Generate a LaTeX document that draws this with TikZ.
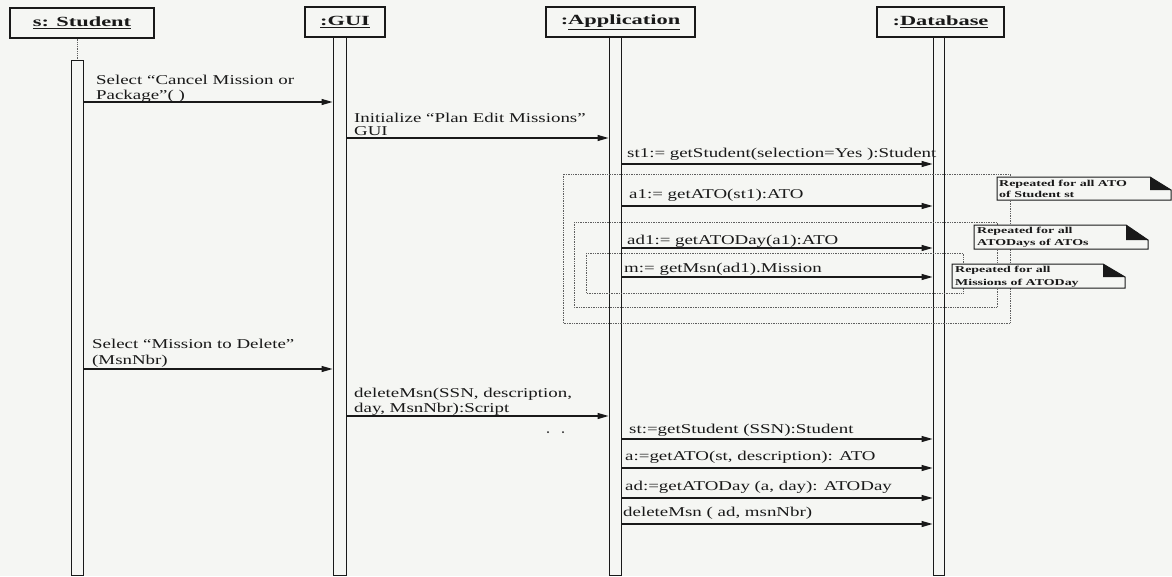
\documentclass[tikz,border=0pt]{standalone}
\usepackage{fontspec}
\setmainfont{Liberation Serif}
\newfontfamily\lblfont[FakeStretch=1.4]{Liberation Serif}
\newfontfamily\hdrfont[FakeStretch=1.6]{Liberation Serif}
\newfontfamily\notefont[FakeStretch=1.55]{Liberation Serif}
\usetikzlibrary{arrows.meta}
\definecolor{bgcol}{RGB}{245,246,243}
\definecolor{ink}{RGB}{25,25,25}
\definecolor{dotcol}{RGB}{95,95,95}
\begin{document}
\begin{tikzpicture}[x=1pt,y=-1pt,
  hdrbox/.style={draw=ink, line width=1.1pt, inner sep=0pt, text=ink,
    font=\hdrfont\bfseries\fontsize{14}{16}\selectfont},
  lifebar/.style={draw=ink, line width=0.9pt, inner sep=0pt, anchor=north},
  lifedots/.style={dotcol, densely dotted, line width=0.8pt},
  msg/.style={draw=ink, line width=1.2pt, -{Triangle[length=11pt,width=6pt]}},
  lbl/.style={anchor=base west, inner sep=0pt, text=ink,
    font=\lblfont\fontsize{13.5}{15}\selectfont},
  loopframe/.style={dotcol, densely dotted, line width=0.7pt},
  notebd/.style={draw=ink, line width=1pt, fill=bgcol},
  notetxt/.style={anchor=base west, inner sep=0pt, text=ink,
    font=\notefont\bfseries\fontsize{9}{10}\selectfont}
]
\fill[bgcol] (0,0) rectangle (1172,576);
\useasboundingbox (0,0) rectangle (1172,576);

% headers
\node[hdrbox, minimum width=144pt, minimum height=30pt] (stu) at (82,23) {\underline{s: Student}};
\node[hdrbox, minimum width=80pt, minimum height=30pt] (gui) at (345,22) {\underline{:GUI}};
\node[hdrbox, minimum width=149pt, minimum height=30pt] (app) at (620.5,22) {:\underline{Application}};
\node[hdrbox, minimum width=127pt, minimum height=30pt] (dbs) at (940.5,22) {:\underline{Database}};

% activation bars
\node[lifebar, minimum width=12pt, minimum height=515pt] (sb) at (77,60) {};
\node[lifebar, minimum width=13pt, minimum height=538pt] (gb) at (339.5,37) {};
\node[lifebar, minimum width=12pt, minimum height=538pt] (ab) at (615,37) {};
\node[lifebar, minimum width=11pt, minimum height=538pt] (db) at (938.5,37) {};
\draw[lifedots] (sb.north |- stu.south) -- (sb.north);

% loop frames
\draw[loopframe] (563,174) rectangle (1010,323);
\draw[loopframe] (574,222) rectangle (997,307);
\draw[loopframe] (586,253) rectangle (963,293);

% messages
\node[lbl] (l1a) at (96,84) {Select “Cancel Mission or};
\node[lbl] (l1b) at (96,99) {Package”( )};
\draw[msg] (sb.east |- 0,102) -- (gb.west |- 0,102);

\node[lbl] (l2a) at (354,122) {Initialize “Plan Edit Missions”};
\node[lbl] (l2b) at (354,135) {GUI};
\draw[msg] (gb.east |- 0,138) -- (ab.west |- 0,138);

\node[lbl] (l3) at (627,157) {st1:= getStudent(selection=Yes ):Student};
\draw[msg] (ab.east |- 0,164) -- (db.west |- 0,164);

\node[lbl] (l4) at (629,198) {a1:= getATO(st1):ATO};
\draw[msg] (ab.east |- 0,206) -- (db.west |- 0,206);

\node[lbl] (l5) at (627,244) {ad1:= getATODay(a1):ATO};
\draw[msg] (ab.east |- 0,248) -- (db.west |- 0,248);

\node[lbl] (l6) at (624,272) {m:= getMsn(ad1).Mission};
\draw[msg] (ab.east |- 0,277) -- (db.west |- 0,277);

\node[lbl] (l7a) at (92,348) {Select “Mission to Delete”};
\node[lbl] (l7b) at (92,364) {(MsnNbr)};
\draw[msg] (sb.east |- 0,369) -- (gb.west |- 0,369);

\node[lbl] (l8a) at (354,397) {deleteMsn(SSN, description,};
\node[lbl] (l8b) at (354,412) {day, MsnNbr):Script};
\draw[msg] (gb.east |- 0,416) -- (ab.west |- 0,416);

\fill[ink] (548,432) circle (1);
\fill[ink] (563,432) circle (1);

\node[lbl] (l9) at (629,433) {st:=getStudent (SSN):Student};
\draw[msg] (ab.east |- 0,439) -- (db.west |- 0,439);

\node[lbl] (l10) at (625,460) {a:=getATO(st, description): ATO};
\draw[msg] (ab.east |- 0,468) -- (db.west |- 0,468);

\node[lbl] (l11) at (625,490) {ad:=getATODay (a, day): ATODay};
\draw[msg] (ab.east |- 0,498) -- (db.west |- 0,498);

\node[lbl] (l12) at (623,516) {deleteMsn ( ad, msnNbr)};
\draw[msg] (ab.east |- 0,524) -- (db.west |- 0,524);

% notes
\draw[notebd] (997,177) -- (1150,177) -- (1171,190) -- (1171,200) -- (997,200) -- cycle;
\fill[ink] (1150,177) -- (1150,190) -- (1171,190) -- cycle;
\node[notetxt] (n1a) at (999,186.5) {Repeated for all ATO};
\node[notetxt] (n1b) at (999,197.5) {of Student st};

\draw[notebd] (974,225) -- (1126,225) -- (1148,240) -- (1148,249) -- (974,249) -- cycle;
\fill[ink] (1126,225) -- (1126,240) -- (1148,240) -- cycle;
\node[notetxt] (n2a) at (977,233.5) {Repeated for all};
\node[notetxt] (n2b) at (977,245.5) {ATODays of ATOs};

\draw[notebd] (952,264) -- (1103,264) -- (1125,277) -- (1125,288) -- (952,288) -- cycle;
\fill[ink] (1103,264) -- (1103,277) -- (1125,277) -- cycle;
\node[notetxt] (n3a) at (955,272) {Repeated for all};
\node[notetxt] (n3b) at (955,285) {Missions of ATODay};
\end{tikzpicture}
\end{document}
